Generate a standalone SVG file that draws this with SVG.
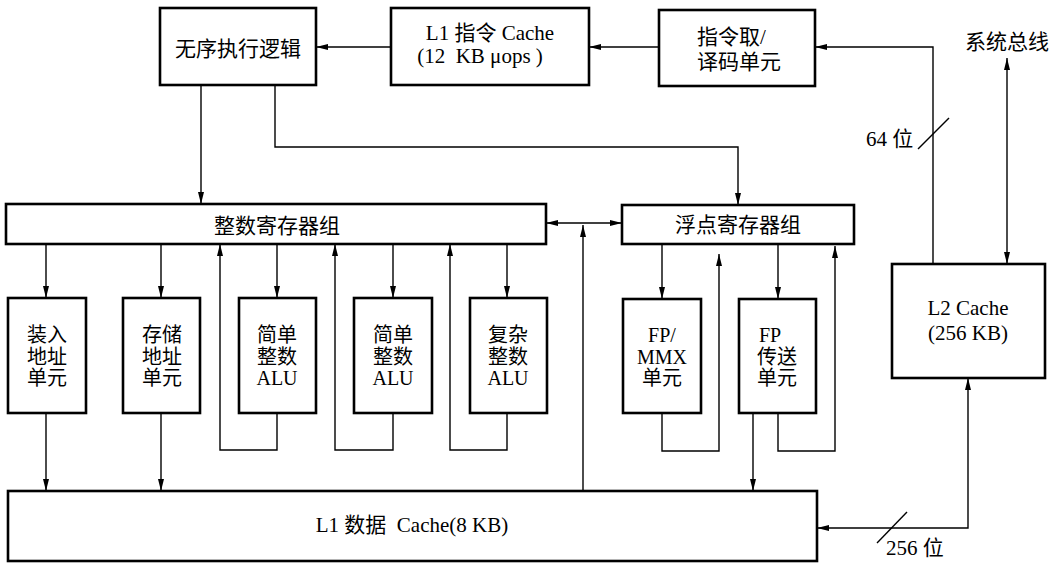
<svg xmlns="http://www.w3.org/2000/svg" width="1058" height="565" viewBox="0 0 1058 565">
<style>
.box{fill:#fff;stroke:#000;stroke-width:2.6}
.ln{fill:none;stroke:#000;stroke-width:1.4}
.t{font-family:"Liberation Serif","Noto Sans CJK SC",serif;font-size:21px;fill:#000;text-anchor:middle;dominant-baseline:central}
.s{font-size:20px}
.tl{font-family:"Liberation Serif","Noto Sans CJK SC",serif;font-size:21px;fill:#000;dominant-baseline:central}
</style>
<defs>
<marker id="ah" viewBox="0 0 12 6" refX="12" refY="3" markerWidth="12" markerHeight="6" markerUnits="userSpaceOnUse" orient="auto-start-reverse">
<path d="M0,0 L12,3 L0,6 z" fill="#000"/>
</marker>
</defs>
<rect width="1058" height="565" fill="#fff"/>

<g id="connectors">
<path class="ln" d="M391,47 H316" marker-end="url(#ah)"/>
<path class="ln" d="M659,47 H589" marker-end="url(#ah)"/>
<path class="ln" d="M933,264 V47 H815" marker-end="url(#ah)"/>
<path class="ln" d="M1007,58 V264" marker-start="url(#ah)" marker-end="url(#ah)"/>
<path class="ln" d="M201,85 V204" marker-end="url(#ah)"/>
<path class="ln" d="M275,85 V147 H738 V205" marker-end="url(#ah)"/>
<path class="ln" d="M546,223 H622" marker-start="url(#ah)" marker-end="url(#ah)"/>
<path class="ln" d="M583,491 V225" marker-end="url(#ah)"/>
<path class="ln" d="M46,244 V298" marker-end="url(#ah)"/>
<path class="ln" d="M161,244 V298" marker-end="url(#ah)"/>
<path class="ln" d="M277,244 V298" marker-end="url(#ah)"/>
<path class="ln" d="M393,244 V298" marker-end="url(#ah)"/>
<path class="ln" d="M507,244 V298" marker-end="url(#ah)"/>
<path class="ln" d="M277,413 V450 H220 V244" marker-end="url(#ah)"/>
<path class="ln" d="M393,413 V450 H335 V244" marker-end="url(#ah)"/>
<path class="ln" d="M507,413 V450 H450 V244" marker-end="url(#ah)"/>
<path class="ln" d="M46,413 V491" marker-end="url(#ah)"/>
<path class="ln" d="M161,413 V491" marker-end="url(#ah)"/>
<path class="ln" d="M662,244 V299" marker-end="url(#ah)"/>
<path class="ln" d="M778,244 V299" marker-end="url(#ah)"/>
<path class="ln" d="M662,413 V451 H719 V254" marker-end="url(#ah)"/>
<path class="ln" d="M778,413 V451 H835 V246" marker-end="url(#ah)"/>
<path class="ln" d="M753,413 V491" marker-end="url(#ah)"/>
<path class="ln" d="M968,378 V528 H817" marker-start="url(#ah)" marker-end="url(#ah)"/>
<path class="ln" d="M918,149 L949,118"/>
<path class="ln" d="M877,543 L907,512"/>
</g>

<g id="ooo"><rect class="box" x="160" y="8" width="156" height="77"/><text class="t" x="238" y="49">无序执行逻辑</text></g>
<g id="l1i"><rect class="box" x="391" y="8" width="198" height="77"/><text class="t" x="490" y="33">L1 指令 Cache</text><text class="t" x="480" y="56" xml:space="preserve">(12  KB μops )</text></g>
<g id="fetch"><rect class="box" x="659" y="10" width="156" height="76"/><text class="tl" x="697" y="37">指令取/</text><text class="tl" x="697" y="62">译码单元</text></g>
<g id="sysbus"><text class="tl" x="965" y="42">系统总线</text></g>
<g id="lbl64"><text class="tl" x="866" y="139">64 位</text></g>
<g id="intreg"><rect class="box" x="6" y="204" width="540" height="40"/><text class="t" x="277" y="226">整数寄存器组</text></g>
<g id="fpreg"><rect class="box" x="622" y="205" width="232" height="39"/><text class="t" x="738" y="225">浮点寄存器组</text></g>
<g id="load"><rect class="box" x="8" y="298" width="78" height="115"/><text class="t s" x="47" y="335">装入</text><text class="t s" x="47" y="356.5">地址</text><text class="t s" x="47" y="378">单元</text></g>
<g id="store"><rect class="box" x="123" y="298" width="77" height="115"/><text class="t s" x="162" y="335">存储</text><text class="t s" x="162" y="356.5">地址</text><text class="t s" x="162" y="378">单元</text></g>
<g id="alu1"><rect class="box" x="239" y="298" width="77" height="115"/><text class="t s" x="277" y="335">简单</text><text class="t s" x="277" y="356.5">整数</text><text class="t s" x="277" y="378">ALU</text></g>
<g id="alu2"><rect class="box" x="354" y="298" width="78" height="115"/><text class="t s" x="393" y="335">简单</text><text class="t s" x="393" y="356.5">整数</text><text class="t s" x="393" y="378">ALU</text></g>
<g id="alu3"><rect class="box" x="470" y="298" width="77" height="115"/><text class="t s" x="508" y="335">复杂</text><text class="t s" x="508" y="356.5">整数</text><text class="t s" x="508" y="378">ALU</text></g>
<g id="fpmmx"><rect class="box" x="623" y="299" width="78" height="114"/><text class="t s" x="662" y="335">FP/</text><text class="t s" x="662" y="356.5">MMX</text><text class="t s" x="662" y="378">单元</text></g>
<g id="fpmov"><rect class="box" x="739" y="299" width="77" height="114"/><text class="t s" x="770" y="335">FP</text><text class="t s" x="777" y="356.5">传送</text><text class="t s" x="777" y="378">单元</text></g>
<g id="l2"><rect class="box" x="892" y="264" width="153" height="114"/><text class="t" x="968" y="308">L2 Cache</text><text class="t" x="968" y="333">(256 KB)</text></g>
<g id="l1d"><rect class="box" x="8" y="491" width="809" height="70"/><text class="t" x="412" y="525" xml:space="preserve">L1 数据  Cache(8 KB)</text></g>
<g id="lbl256"><text class="tl" x="886" y="548">256 位</text></g>
</svg>
